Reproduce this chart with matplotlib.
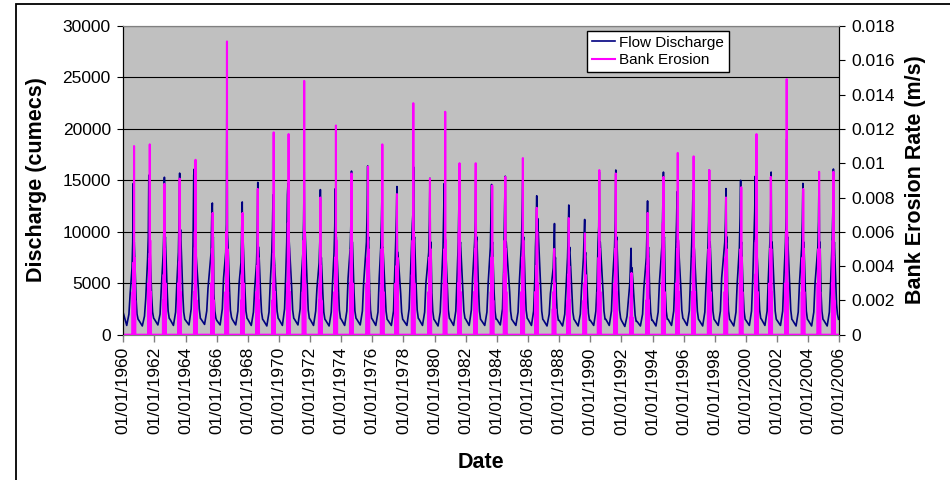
#!/usr/bin/env python3
"""
Daily flow discharge and bank erosion rate, 1960-2006.

Excel-style twin-axis line chart: discharge on the left axis,
bank erosion rate on the right axis.
"""

import numpy as np
import matplotlib
matplotlib.use('Agg')  # Use non-interactive backend
import matplotlib.pyplot as plt
from matplotlib.patches import Rectangle

# ---------------------------------------------------------------------------
# Data (one row per year, 1960 .. 2005)
# ---------------------------------------------------------------------------
years = list(range(1960, 2006))

# Discharge (cumecs) readings per year:
# Jan, dry low, May, Jun, rise, pre-peak, peak, dip, second hump, Sep, Oct, Dec
flow_readings = [
    [2100, 900, 2000, 4000, 6500, 9000, 14700, 7500, 9000, 3500, 2000, 1500],     # 1960
    [1400, 850, 1800, 3500, 7300, 9500, 15500, 8000, 9000, 3800, 2200, 1600],     # 1961
    [1500, 950, 2000, 4500, 7800, 10000, 15300, 8500, 9500, 4200, 2300, 1600],    # 1962
    [1500, 900, 2200, 5000, 8000, 11500, 15700, 9000, 10200, 4000, 2200, 1500],   # 1963
    [1400, 950, 2500, 5500, 9000, 15500, 16100, 8500, 9000, 4500, 2500, 1600],    # 1964
    [1500, 1000, 2300, 4500, 8000, 11600, 12800, 9000, 9500, 4000, 2300, 1600],   # 1965
    [1400, 950, 2500, 5500, 8000, 10800, 25900, 10000, 9000, 4500, 2400, 1700],   # 1966
    [1500, 950, 2300, 5000, 7000, 10000, 12900, 8500, 9000, 4200, 2300, 1600],    # 1967
    [1500, 900, 2200, 4500, 7000, 9500, 14800, 8500, 8500, 4000, 2200, 1500],     # 1968
    [1400, 850, 2200, 5000, 8000, 10500, 13600, 8000, 8000, 4000, 2300, 1600],    # 1969
    [1500, 900, 2500, 6000, 9000, 13600, 14700, 9000, 9500, 4500, 2400, 1600],    # 1970
    [1500, 950, 2500, 5500, 8000, 11000, 15800, 9000, 10000, 4500, 2400, 1600],   # 1971
    [1500, 900, 2300, 4500, 7000, 9000, 14100, 6500, 7500, 4000, 2200, 1500],     # 1972
    [1400, 850, 2200, 5000, 8000, 10500, 14200, 8500, 9500, 4500, 2400, 1600],    # 1973
    [1500, 900, 2300, 5500, 8500, 11000, 15900, 9000, 9000, 4200, 2300, 1600],    # 1974
    [1500, 950, 2300, 5000, 9000, 12000, 16400, 9000, 9500, 4500, 2400, 1600],    # 1975
    [1500, 900, 2200, 5500, 8500, 11000, 13800, 8000, 8500, 4200, 2300, 1500],    # 1976
    [1400, 900, 2300, 6000, 9000, 11500, 14400, 8000, 8000, 4000, 2200, 1500],    # 1977
    [1400, 900, 2500, 5500, 10800, 12000, 16300, 9000, 9500, 4500, 2400, 1600],   # 1978
    [1500, 900, 2200, 5000, 8000, 11000, 15200, 8500, 9000, 4200, 2300, 1500],    # 1979
    [1400, 850, 2200, 5000, 8500, 12000, 14700, 9000, 9500, 4500, 2400, 1600],    # 1980
    [1500, 900, 2300, 5500, 9000, 13000, 15000, 8500, 9000, 4200, 2300, 1600],    # 1981
    [1500, 900, 2400, 5500, 9000, 11000, 16500, 9000, 9500, 4500, 2300, 1500],    # 1982
    [1400, 900, 2200, 5000, 8500, 12000, 14600, 8500, 9000, 4200, 2300, 1500],    # 1983
    [1500, 950, 2500, 6500, 9000, 13000, 15400, 9000, 9000, 4200, 2300, 1500],    # 1984
    [1400, 900, 2200, 5000, 9000, 12000, 15000, 9000, 9500, 4500, 2400, 1600],    # 1985
    [1500, 900, 2300, 5500, 8500, 10500, 13500, 9000, 11300, 4200, 2300, 1500],   # 1986
    [1400, 850, 2000, 4000, 6500, 8500, 10800, 7000, 7500, 3800, 2100, 1400],     # 1987
    [1400, 850, 2000, 4500, 7500, 10000, 12600, 8000, 8500, 4000, 2200, 1500],    # 1988
    [1400, 850, 2000, 4500, 7500, 9500, 11200, 7500, 8000, 3800, 2100, 1400],     # 1989
    [1400, 900, 2300, 5000, 9000, 10500, 15800, 8500, 9000, 4200, 2300, 1500],    # 1990
    [1500, 900, 2300, 5500, 8500, 11000, 16000, 9000, 9500, 4500, 2400, 1600],    # 1991
    [1400, 800, 1800, 3200, 5000, 7000, 8400, 5500, 6500, 3200, 1900, 1300],      # 1992
    [1300, 850, 2000, 4500, 7500, 10000, 13000, 8000, 8500, 4000, 2200, 1400],    # 1993
    [1400, 850, 2200, 5000, 9000, 12900, 15800, 9000, 9500, 4200, 2300, 1500],    # 1994
    [1500, 900, 2300, 5500, 8500, 11000, 13900, 9000, 9500, 4500, 2400, 1600],    # 1995
    [1500, 900, 2300, 5500, 9000, 11500, 14000, 8500, 9000, 4200, 2300, 1500],    # 1996
    [1400, 850, 2200, 5000, 8500, 11000, 16000, 8500, 9000, 4200, 2300, 1500],    # 1997
    [1400, 900, 2300, 5500, 9000, 11000, 14200, 9000, 9500, 4300, 2300, 1500],    # 1998
    [1400, 850, 2200, 5000, 8500, 11500, 15000, 8500, 9000, 4200, 2300, 1500],    # 1999
    [1400, 900, 2300, 5500, 9500, 12000, 15400, 9000, 9500, 4500, 2400, 1600],    # 2000
    [1500, 900, 2300, 5500, 9000, 11000, 15800, 8500, 9000, 4200, 2300, 1500],    # 2001
    [1400, 900, 2300, 5500, 9000, 11500, 19000, 9000, 9500, 4500, 2400, 1500],    # 2002
    [1400, 850, 2200, 5000, 8500, 11000, 14700, 8500, 9000, 4200, 2300, 1500],    # 2003
    [1400, 850, 2200, 5000, 8500, 11000, 15800, 8500, 9000, 4200, 2300, 1500],    # 2004
    [1400, 850, 2200, 5000, 9000, 12000, 16100, 7500, 9000, 3000, 2000, 1500],    # 2005
]

# Timing of the discharge peak (fraction of the year)
flow_peak_time = [
    0.64, 0.64, 0.64, 0.62, 0.56, 0.72, 0.66, 0.64, 0.64, 0.62,
    0.58, 0.62, 0.66, 0.62, 0.66, 0.70, 0.62, 0.58, 0.65, 0.70,
    0.62, 0.60, 0.65, 0.66, 0.54, 0.66, 0.56, 0.70, 0.62, 0.64,
    0.58, 0.64, 0.62, 0.68, 0.70, 0.58, 0.60, 0.64, 0.72, 0.66,
    0.60, 0.62, 0.62, 0.66, 0.70, 0.62,
]

# Bank erosion rate (m/s) per year: two early spikes, main spike, two late spikes
erosion_spikes = [
    [0.0025, 0.0042, 0.0110, 0.0045, 0.0020],  # 1960
    [0.0030, 0.0044, 0.0111, 0.0055, 0.0025],  # 1961
    [0.0020, 0.0035, 0.0088, 0.0050, 0.0030],  # 1962
    [0.0030, 0.0042, 0.0091, 0.0060, 0.0025],  # 1963
    [0.0025, 0.0060, 0.0102, 0.0050, 0.0020],  # 1964
    [0.0030, 0.0050, 0.0071, 0.0045, 0.0020],  # 1965
    [0.0025, 0.0060, 0.0171, 0.0050, 0.0025],  # 1966
    [0.0020, 0.0035, 0.0071, 0.0050, 0.0030],  # 1967
    [0.0025, 0.0040, 0.0085, 0.0045, 0.0020],  # 1968
    [0.0020, 0.0030, 0.0118, 0.0040, 0.0025],  # 1969
    [0.0030, 0.0065, 0.0117, 0.0050, 0.0025],  # 1970
    [0.0025, 0.0055, 0.0148, 0.0060, 0.0030],  # 1971
    [0.0020, 0.0030, 0.0080, 0.0040, 0.0020],  # 1972
    [0.0025, 0.0045, 0.0122, 0.0055, 0.0025],  # 1973
    [0.0030, 0.0050, 0.0094, 0.0055, 0.0030],  # 1974
    [0.0030, 0.0045, 0.0098, 0.0050, 0.0025],  # 1975
    [0.0025, 0.0050, 0.0111, 0.0050, 0.0025],  # 1976
    [0.0030, 0.0040, 0.0082, 0.0045, 0.0020],  # 1977
    [0.0035, 0.0055, 0.0135, 0.0060, 0.0030],  # 1978
    [0.0025, 0.0045, 0.0091, 0.0050, 0.0025],  # 1979
    [0.0030, 0.0050, 0.0130, 0.0055, 0.0030],  # 1980
    [0.0030, 0.0060, 0.0100, 0.0050, 0.0025],  # 1981
    [0.0025, 0.0050, 0.0100, 0.0055, 0.0030],  # 1982
    [0.0025, 0.0045, 0.0087, 0.0045, 0.0020],  # 1983
    [0.0035, 0.0055, 0.0092, 0.0050, 0.0025],  # 1984
    [0.0025, 0.0045, 0.0103, 0.0055, 0.0025],  # 1985
    [0.0025, 0.0040, 0.0074, 0.0060, 0.0030],  # 1986
    [0.0015, 0.0025, 0.0050, 0.0030, 0.0015],  # 1987
    [0.0020, 0.0035, 0.0068, 0.0040, 0.0020],  # 1988
    [0.0020, 0.0030, 0.0059, 0.0035, 0.0015],  # 1989
    [0.0025, 0.0045, 0.0096, 0.0050, 0.0025],  # 1990
    [0.0030, 0.0050, 0.0094, 0.0055, 0.0025],  # 1991
    [0.0010, 0.0020, 0.0036, 0.0025, 0.0010],  # 1992
    [0.0020, 0.0040, 0.0071, 0.0045, 0.0020],  # 1993
    [0.0030, 0.0065, 0.0092, 0.0050, 0.0025],  # 1994
    [0.0030, 0.0050, 0.0106, 0.0055, 0.0025],  # 1995
    [0.0025, 0.0045, 0.0104, 0.0050, 0.0025],  # 1996
    [0.0030, 0.0050, 0.0096, 0.0050, 0.0025],  # 1997
    [0.0025, 0.0045, 0.0080, 0.0050, 0.0020],  # 1998
    [0.0030, 0.0050, 0.0086, 0.0045, 0.0025],  # 1999
    [0.0035, 0.0055, 0.0117, 0.0055, 0.0025],  # 2000
    [0.0030, 0.0050, 0.0092, 0.0050, 0.0025],  # 2001
    [0.0030, 0.0060, 0.0149, 0.0060, 0.0030],  # 2002
    [0.0025, 0.0045, 0.0085, 0.0050, 0.0025],  # 2003
    [0.0030, 0.0050, 0.0095, 0.0050, 0.0025],  # 2004
    [0.0030, 0.0055, 0.0095, 0.0045, 0.0020],  # 2005
]

# Timing of the main erosion spike (fraction of the year)
erosion_time = [
    0.69, 0.70, 0.64, 0.62, 0.64, 0.74, 0.66, 0.66, 0.64, 0.66,
    0.62, 0.62, 0.66, 0.66, 0.66, 0.72, 0.64, 0.58, 0.63, 0.70,
    0.68, 0.60, 0.64, 0.70, 0.54, 0.67, 0.56, 0.68, 0.62, 0.66,
    0.58, 0.64, 0.65, 0.69, 0.70, 0.62, 0.64, 0.65, 0.72, 0.70,
    0.68, 0.60, 0.62, 0.68, 0.70, 0.62,
]

left_ticks = [0, 5000, 10000, 15000, 20000, 25000, 30000]
right_ticks = [0, 0.002, 0.004, 0.006, 0.008, 0.01, 0.012, 0.014, 0.016, 0.018]
date_ticks = list(range(1960, 2007, 2))

NAVY = '#000080'
MAGENTA = '#FF00FF'
PLOT_BG = '#C0C0C0'

plt.rcParams['font.family'] = ['Liberation Sans', 'DejaVu Sans']


def build_flow_series():
    """Place the yearly discharge readings on a decimal-year axis"""
    t, q = [], []
    for yr, vals, pk in zip(years, flow_readings, flow_peak_time):
        offsets = [0.0, 0.22, 0.36, 0.44, pk - 0.08, pk - 0.035, pk,
                   pk + 0.025, pk + 0.06, 0.82, 0.88, 0.95]
        t.extend(yr + o for o in offsets)
        q.extend(vals)
    return np.array(t), np.array(q)


def build_erosion_series():
    """Erosion is zero except for short spikes around the flood season"""
    t, e = [1960.0], [0.0]
    w = 0.008
    offsets = [-0.09, -0.045, 0.0, 0.03, 0.07]
    for yr, et, spikes in zip(years, erosion_time, erosion_spikes):
        for off, v in zip(offsets, spikes):
            c = yr + et + off
            t.extend([c - w, c, c + w])
            e.extend([0.0, v, 0.0])
    t.append(2006.0)
    e.append(0.0)
    return np.array(t), np.array(e)


def main():
    fig = plt.figure(figsize=(9.5, 4.8), dpi=100)
    ax1 = fig.add_axes([0.1298, 0.3027, 0.7537, 0.6431])
    ax2 = ax1.twinx()

    t_flow, q = build_flow_series()
    t_ero, e = build_erosion_series()

    ax1.set_facecolor(PLOT_BG)
    ax1.set_axisbelow(True)
    l1, = ax1.plot(t_flow, q, color=NAVY, linewidth=1.2, label='Flow Discharge')
    l2, = ax2.plot(t_ero, e, color=MAGENTA, linewidth=1.5, label='Bank Erosion')

    ax1.set_xlim(1960, 2006)
    ax1.set_ylim(0, 30000)
    ax2.set_ylim(0, 0.018)

    ax1.set_yticks(left_ticks)
    ax1.set_yticklabels([str(v) for v in left_ticks])
    ax2.set_yticks(right_ticks)
    ax2.set_yticklabels(['{:g}'.format(v) for v in right_ticks])
    ax1.set_xticks(date_ticks)
    ax1.set_xticklabels(['01/01/{}'.format(y) for y in date_ticks], rotation=90)

    ax1.grid(axis='y', color='black', linewidth=0.8)

    ax1.tick_params(axis='y', direction='out', length=4, width=0.8,
                    labelsize=12.5, pad=5)
    ax2.tick_params(axis='y', direction='out', length=4, width=0.8,
                    labelsize=12.5, pad=5)
    ax1.tick_params(axis='x', direction='out', length=5, width=1.0,
                    color='#808080', labelsize=12.5, pad=4)

    for ax in (ax1, ax2):
        ax.spines['top'].set_color('#808080')
        ax.spines['bottom'].set_color('#808080')
        ax.spines['left'].set_color('black')
        ax.spines['right'].set_color('black')

    fig.text(37 / 950, 1 - 180 / 480, 'Discharge (cumecs)', rotation=90,
             ha='center', va='center', fontsize=15.5, fontweight='bold')
    fig.text(915 / 950, 1 - 180 / 480, 'Bank Erosion Rate (m/s)', rotation=90,
             ha='center', va='center', fontsize=15.5, fontweight='bold')
    fig.text(481 / 950, 1 - 462 / 480, 'Date', ha='center', va='center',
             fontsize=15.5, fontweight='bold')

    leg = ax2.legend(handles=[l1, l2], loc='upper left',
                     bbox_to_anchor=(0.6476, 0.984), fontsize=11,
                     fancybox=False, framealpha=1, edgecolor='black',
                     handlelength=1.5, handletextpad=0.3, borderpad=0.3,
                     labelspacing=0.25, borderaxespad=0)
    leg.get_frame().set_linewidth(1.0)

    # chart-area border (runs off the right and bottom of the image)
    fig.add_artist(Rectangle((16 / 950, -0.1), 1.0, 0.1 + 476 / 480,
                             transform=fig.transFigure, fill=False,
                             edgecolor='black', linewidth=1.3))

    fig.savefig('out.png', dpi=100)
    plt.close(fig)


if __name__ == "__main__":
    main()
